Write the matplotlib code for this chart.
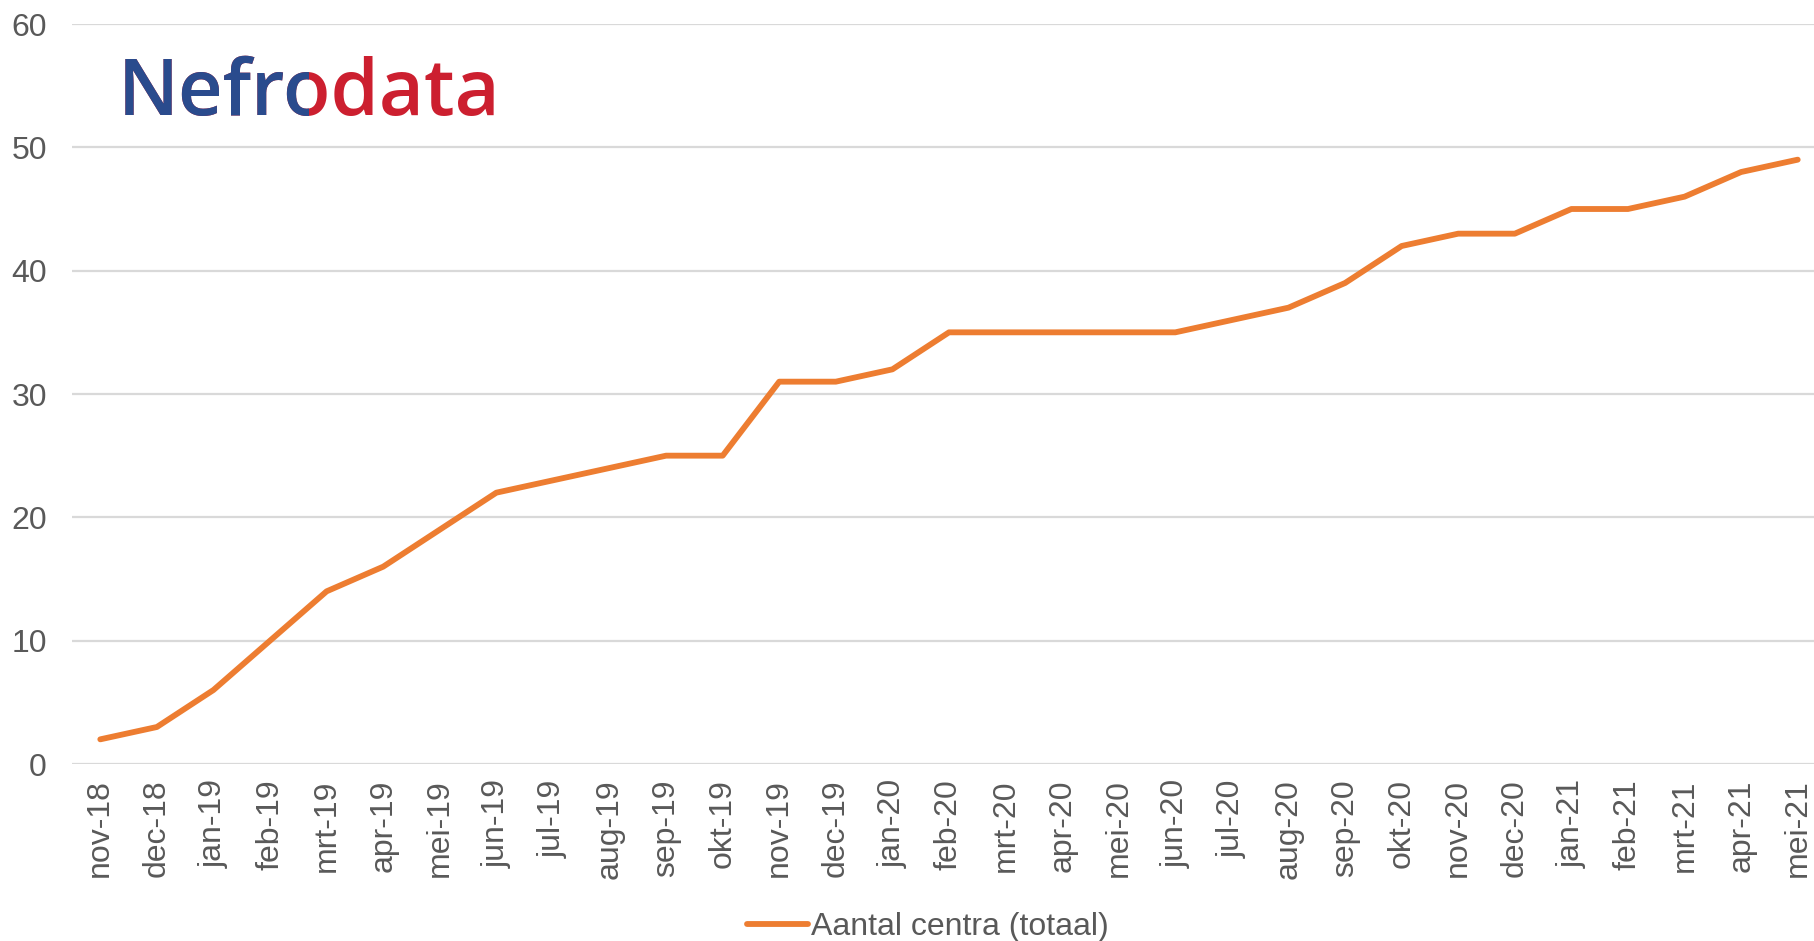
import matplotlib
matplotlib.use("Agg")
import matplotlib.pyplot as plt
from matplotlib.patches import Rectangle

months = ["nov-18", "dec-18",
          "jan-19", "feb-19", "mrt-19", "apr-19", "mei-19", "jun-19",
          "jul-19", "aug-19", "sep-19", "okt-19", "nov-19", "dec-19",
          "jan-20", "feb-20", "mrt-20", "apr-20", "mei-20", "jun-20",
          "jul-20", "aug-20", "sep-20", "okt-20", "nov-20", "dec-20",
          "jan-21", "feb-21", "mrt-21", "apr-21", "mei-21"]
centra = [2, 3, 6, 10, 14, 16, 19, 22, 23, 24, 25, 25, 31, 31, 32, 35,
          35, 35, 35, 35, 36, 37, 39, 42, 43, 43, 45, 45, 46, 48, 49]
series_name = "Aantal centra (totaal)"
yticks = [0, 10, 20, 30, 40, 50, 60]

W, H = 1814, 941
fig = plt.figure(figsize=(W / 100, H / 100), dpi=100)
plt.rcParams['font.family'] = ['Liberation Sans', 'DejaVu Sans']

left, right = 72, 1826
bottom, top = 764, 24
ax = fig.add_axes([left / W, 1 - bottom / H, (right - left) / W, (bottom - top) / H])

x = list(range(len(months)))
ax.plot(x, centra, color="#ED7D31", lw=4.2, solid_joinstyle="round",
        solid_capstyle="round", label=series_name, zorder=3)

ax.set_xlim(-0.5, len(months) - 0.5)
ax.set_ylim(0, 60)
ax.set_yticks(yticks)
ax.grid(axis="y", color="#d9d9d9", lw=1.6)
ax.set_axisbelow(True)
for s in ax.spines.values():
    s.set_visible(False)
ax.set_xticks(x)
ax.set_xticklabels(months, rotation=90)
ax.tick_params(axis="both", length=0, colors="#595959", labelsize=23)
ax.tick_params(axis="y", pad=18)
ax.tick_params(axis="x", pad=11)

leg = fig.legend(handles=ax.get_lines(), labels=[series_name], loc="center",
                 bbox_to_anchor=(928 / W, 1 - 927 / H), frameon=False,
                 fontsize=23, handlelength=1.9, handletextpad=0.1,
                 labelcolor="#595959")

# Logo
blue, red = "#2a4b8d", "#cc1f2f"
lx, ly = 118 / W, 1 - 115 / H
fsz = 56
t_red = fig.text(lx, ly, "Nefrodata", color=red, fontsize=fsz,
                 fontfamily="Open Sans", fontweight="semibold", va="baseline")
fig.canvas.draw()
r = fig.canvas.get_renderer()
t_a = fig.text(lx, ly, "Nefr", fontsize=fsz, fontfamily="Open Sans",
               fontweight="semibold", va="baseline", alpha=0)
t_b = fig.text(lx, ly, "Nefro", fontsize=fsz, fontfamily="Open Sans",
               fontweight="semibold", va="baseline", alpha=0)
ea = t_a.get_window_extent(r)
eb = t_b.get_window_extent(r)
mid = (ea.x1 + eb.x1) / 2
t_blue = fig.text(lx, ly, "Nefrodata", color=blue, fontsize=fsz,
                  fontfamily="Open Sans", fontweight="semibold", va="baseline")
clip = Rectangle((0, 0), mid, H, transform=None)
t_blue.set_clip_path(clip)

fig.savefig("out.png", dpi=100, facecolor="white")
